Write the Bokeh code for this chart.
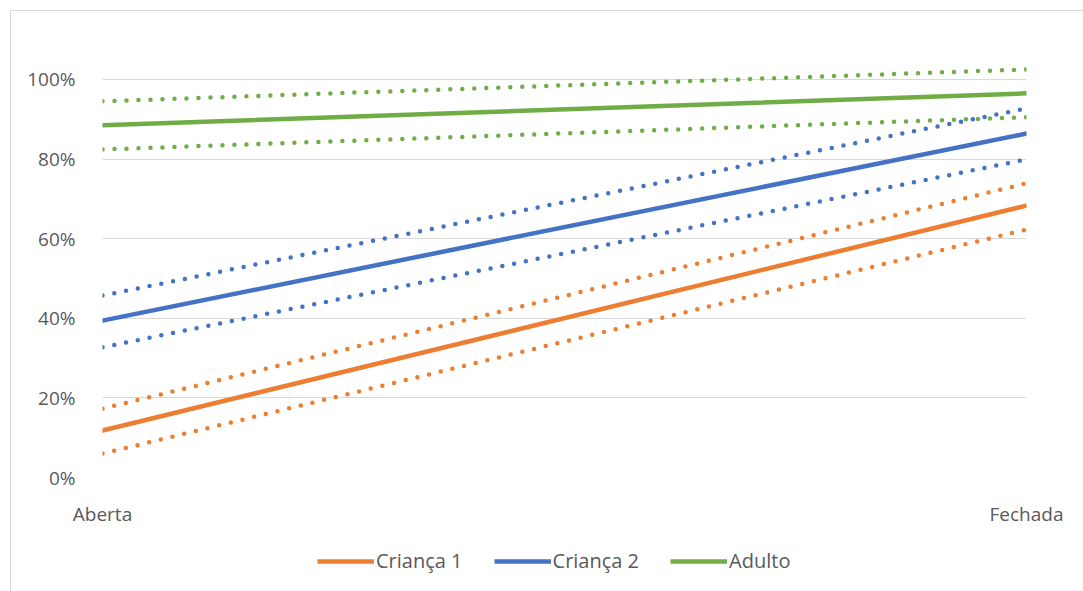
from bokeh.plotting import figure
from bokeh.layouts import column
from bokeh.models import FixedTicker, Legend, LegendItem, NumeralTickFormatter
from bokeh.embed import file_html
from bokeh.resources import INLINE

categories = ["Aberta", "Fechada"]
series_names = ["Criança 1", "Criança 2", "Adulto"]
crianca1 = [0.118, 0.683]
crianca1_upper = [0.173, 0.739]
crianca1_lower = [0.060, 0.623]
crianca2 = [0.394, 0.864]
crianca2_upper = [0.457, 0.927]
crianca2_lower = [0.327, 0.799]
adulto = [0.885, 0.965]
adulto_upper = [0.945, 1.025]
adulto_lower = [0.824, 0.905]
y_ticks = [0, 0.2, 0.4, 0.6, 0.8, 1.0]

colors = ["#ED7D31", "#4472C4", "#70AD47"]
xs = list(range(len(categories)))

p = figure(width=1073, height=520, output_backend="svg", toolbar_location=None,
           x_range=(0, 1), y_range=(0, 1.05),
           min_border_left=91, min_border_right=58, min_border_top=48, min_border_bottom=54)
p.outline_line_color = None
p.background_fill_color = "white"

groups = [(crianca1, crianca1_upper, crianca1_lower),
          (crianca2, crianca2_upper, crianca2_lower),
          (adulto, adulto_upper, adulto_lower)]
for name, color, (main, up, lo) in zip(series_names, colors, groups):
    for b in (up, lo):
        p.line(xs, b, line_color=color, line_width=4.5, line_dash="0 12", line_cap="round")
for name, color, (main, up, lo) in zip(series_names, colors, groups):
    p.line(xs, main, line_color=color, line_width=4.5, line_cap="round")

p.xaxis.ticker = FixedTicker(ticks=xs)
p.xaxis.major_label_overrides = {i: c for i, c in zip(xs, categories)}
p.yaxis.ticker = FixedTicker(ticks=y_ticks)
p.yaxis.formatter = NumeralTickFormatter(format="0%")
for ax in (p.xaxis[0], p.yaxis[0]):
    ax.axis_line_color = None
    ax.major_tick_line_color = None
    ax.minor_tick_line_color = None
    ax.major_label_text_font = "Open Sans"
    ax.major_label_text_font_size = "19px"
    ax.major_label_text_color = "#595959"
p.yaxis.major_label_standoff = 21
p.xaxis.major_label_standoff = 17
p.xgrid.grid_line_color = None
p.ygrid.grid_line_color = "#d9d9d9"
p.ygrid.grid_line_width = 1

# legend strip
lp = figure(width=1073, height=60, output_backend="svg", toolbar_location=None,
            x_range=(0, 1), y_range=(0, 1), min_border=0)
lp.axis.visible = False
lp.grid.visible = False
lp.outline_line_color = None
items = []
for name, color in zip(series_names, colors):
    r = lp.line([5, 6], [5, 6], line_color=color, line_width=4.5)
    items.append(LegendItem(label=name, renderers=[r]))
legend = Legend(items=items, orientation="horizontal", location=(215, 17),
                glyph_width=57, glyph_height=16, label_standoff=2, spacing=31,
                label_text_font="Open Sans", label_text_font_size="20px",
                label_text_color="#595959", border_line_color=None,
                background_fill_alpha=0, padding=0, margin=0)
lp.add_layout(legend, "center")

layout = column(p, lp, spacing=0)
layout.margin = (10, 0, 0, 10)
layout.styles = {"border-left": "1px solid #d9d9d9", "border-top": "1px solid #d9d9d9"}

open("out.html", "w").write(file_html(layout, INLINE))
